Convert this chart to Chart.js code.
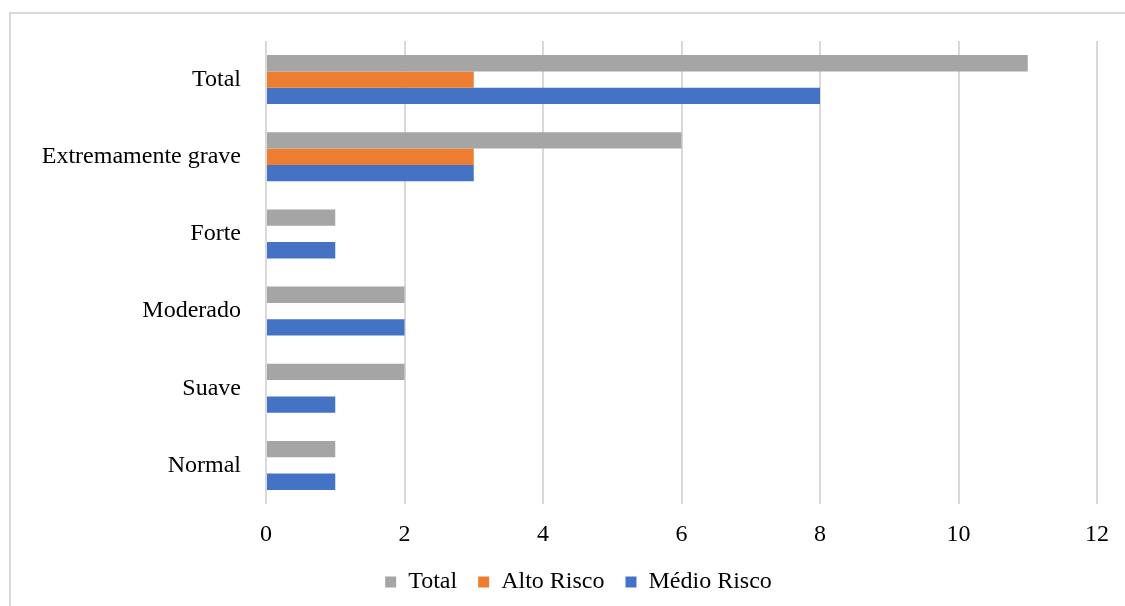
<!DOCTYPE html>
<html>
<head>
    <meta charset="utf-8">
    <title>Risco por nível</title>
    <script src="https://cdn.jsdelivr.net/npm/chart.js@4"></script>
    <style>
        html, body { margin: 0; padding: 0; background: #fff; overflow: hidden; }
        .wrap { position: relative; width: 1125px; height: 606px; }
        .frame {
            position: absolute; left: 9px; top: 12px; width: 1300px; height: 800px;
            border-left: 2px solid #d9d9d9; border-top: 2px solid #d9d9d9;
        }
        canvas { position: absolute; left: 0; top: 0; }
    </style>
</head>
<body>
<div class="wrap">
    <div class="frame"></div>
    <canvas id="riskChart" width="1125" height="606"></canvas>
</div>
<script>
    // categorias (de cima para baixo)
    const categories = ['Total', 'Extremamente grave', 'Forte', 'Moderado', 'Suave', 'Normal'];
    const totalValues = [11, 6, 1, 2, 2, 1];
    const altoRiscoValues = [3, 3, 0, 0, 0, 0];
    const medioRiscoValues = [8, 3, 1, 2, 1, 1];
    const xTicks = [0, 2, 4, 6, 8, 10, 12];

    const serif = "'Liberation Serif', 'Times New Roman', serif";

    // legenda um pouco deslocada para a direita, como no original
    const legendShift = {
        id: 'legendShift',
        afterLayout(chart) {
            chart.legend.left += 30;
            chart.legend.right += 30;
        }
    };

    const ctx = document.getElementById('riskChart').getContext('2d');
    new Chart(ctx, {
        type: 'bar',
        data: {
            labels: categories,
            datasets: [
                { label: 'Total', data: totalValues, backgroundColor: '#A5A5A5' },
                { label: 'Alto Risco', data: altoRiscoValues, backgroundColor: '#ED7D31' },
                { label: 'Médio Risco', data: medioRiscoValues, backgroundColor: '#4472C4' }
            ]
        },
        plugins: [legendShift],
        options: {
            indexAxis: 'y',
            responsive: false,
            animation: false,
            datasets: {
                bar: { categoryPercentage: 0.635, barPercentage: 1.0, borderWidth: 0 }
            },
            layout: { padding: { top: 41, right: 28, left: 0, bottom: 2 } },
            scales: {
                x: {
                    min: 0,
                    max: 12,
                    afterBuildTicks: scale => { scale.ticks = xTicks.map(v => ({ value: v })); },
                    afterFit: scale => { scale.height = 45; },
                    grid: { color: '#d9d9d9', lineWidth: 2, drawTicks: false },
                    border: { display: false },
                    ticks: {
                        color: '#000',
                        padding: 16,
                        font: { family: serif, size: 24 }
                    }
                },
                y: {
                    afterFit: scale => { scale.width = 266; },
                    grid: { display: false },
                    border: { display: false },
                    ticks: {
                        color: '#000',
                        padding: 17,
                        font: { family: serif, size: 24 }
                    }
                }
            },
            plugins: {
                tooltip: { enabled: false },
                legend: {
                    position: 'bottom',
                    labels: {
                        color: '#000',
                        boxWidth: 11,
                        boxHeight: 11,
                        padding: 21,
                        font: { family: serif, size: 24 }
                    }
                }
            }
        }
    });
</script>
</body>
</html>
